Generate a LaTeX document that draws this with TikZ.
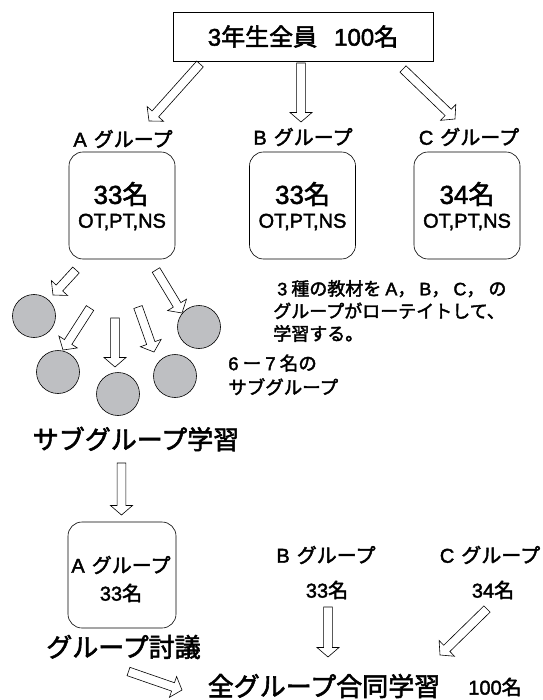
\documentclass[tikz,border=0pt]{standalone}
\usepackage{fontspec}
\setmainfont{Noto Sans CJK JP}[FakeBold=2.2]
\newfontfamily\helfont{Liberation Sans}[FakeBold=2]
\newcommand{\hel}[1]{{\helfont #1}}
\usepackage{xcolor}
\definecolor{subgray}{RGB}{190,191,194}
\usetikzlibrary{positioning,calc}
\tikzset{
	hollow/.style={to path={
		let \p1=($(\tikztotarget)-(\tikztostart)$), \n1={atan2(\y1,\x1)} in
		($(\tikztostart)+({\n1+90}:4.4pt)$)
		-- ($(\tikztotarget)+(\n1:-9.5pt)+({\n1+90}:4.4pt)$)
		-- ($(\tikztotarget)+(\n1:-9.5pt)+({\n1+90}:11pt)$)
		-- (\tikztotarget)
		-- ($(\tikztotarget)+(\n1:-9.5pt)+({\n1-90}:11pt)$)
		-- ($(\tikztotarget)+(\n1:-9.5pt)+({\n1-90}:4.4pt)$)
		-- ($(\tikztostart)+({\n1-90}:4.4pt)$) -- cycle}}
}

\begin{document}
\begin{tikzpicture}[x=1pt, y=-1pt, line width=0.6pt,
		txt/.style={inner sep=0pt, font=\fontsize{20}{24}\selectfont},
		note/.style={inner sep=0pt, anchor=west, align=left, font=\fontsize{18}{22.5}\selectfont},
		big/.style={inner sep=0pt, font=\fontsize{26}{30}\selectfont},
		num/.style={inner sep=0pt, font=\fontsize{26}{30}\selectfont},
		grpbox/.style={draw, rounded corners=14pt, minimum width=106pt, minimum height=107pt, inner sep=0pt},
		sub/.style={draw, circle, fill=subgray, minimum size=43pt, inner sep=0pt}]
				\useasboundingbox (0,0) rectangle (542,700);
				\node[draw, minimum width=260pt, minimum height=49pt, inner sep=0pt, font=\fontsize{24}{28}\selectfont] (all) at (303,36.5) {\hel{3}年生全員\hspace{17pt}\hel{100}名};
				\node[txt] (la) at (123,139) {\hel{A}\hspace{7pt}グループ};
				\node[txt] (lb) at (303,137) {\hel{B}\hspace{7pt}グループ};
				\node[txt] (lc) at (469,137) {\hel{C}\hspace{7pt}グループ};
				\node[grpbox] (ga) at (122,205.5) {};
				\node[grpbox] (gb) at (302.5,205.5) {};
				\node[grpbox] (gc) at (467,205.5) {};
				\node[num] (na) at (121,194) {\hel{33}名};
				\node[num] (nb) at (302.5,194) {\hel{33}名};
				\node[num] (nc) at (467,194) {\hel{34}名};
				\node[txt, font=\helfont\fontsize{20}{24}\selectfont] (sa) at (122,222) {OT,PT,NS};
				\node[txt, font=\helfont\fontsize{20}{24}\selectfont] (sb) at (302.5,222) {OT,PT,NS};
				\node[txt, font=\helfont\fontsize{20}{24}\selectfont] (sc) at (467,222) {OT,PT,NS};
				\coordinate (ta0) at (200,64); \coordinate (ta1) at (149,121);
				\coordinate (tb0) at (301,63); \coordinate (tb1) at (301,122);
				\coordinate (tc0) at (403,69); \coordinate (tc1) at (455,119);
				\draw (ta0) to[hollow] (ta1);
				\draw (tb0) to[hollow] (tb1);
				\draw (tc0) to[hollow] (tc1);
				\node[note] (rot) at (273,311) {\hspace*{4pt}\hel{3} 種の教材を \hel{A}， \hel{B}， \hel{C}， の\\グループがローテイトして、\\学習する。};
				\node[sub] (c1) at (34,316) {};
				\node[sub] (c2) at (58,372) {};
				\node[sub] (c3) at (118,394) {};
				\node[sub] (c4) at (175,376) {};
				\node[sub] (c5) at (199,327) {};
				\coordinate (a10) at (76,270); \coordinate (a11) at (53,295);
				\coordinate (a20) at (90,308); \coordinate (a21) at (63,350);
				\coordinate (a30) at (115,318); \coordinate (a31) at (115,367);
				\coordinate (a40) at (138,307); \coordinate (a41) at (154,352);
				\coordinate (a50) at (156,270); \coordinate (a51) at (182,313);
				\foreach \i in {1,...,5}
					\draw (a\i0) to[hollow] (a\i1);
				\node[note, font=\fontsize{18.5}{24}\selectfont] (sz) at (228,375) {\hel{6} ー \hel{7} 名の\\サブグループ};
				\node[big] (subl) at (136,439) {サブグループ学習};
				\coordinate (d0) at (121.5,463); \coordinate (d1) at (121.5,515);
				\draw (d0) to[hollow] (d1);
				\node[grpbox, minimum width=108pt, minimum height=106pt] (ga2) at (122,575) {};
				\node[txt] (la2) at (121,565) {\hel{A}\hspace{7pt}グループ};
				\node[txt] (na2) at (121,593) {\hel{33}名};
				\node[txt] (lb2) at (326,555) {\hel{B}\hspace{7pt}グループ};
				\node[txt] (nb2) at (327,590) {\hel{33}名};
				\node[txt] (lc2) at (490,555) {\hel{C}\hspace{7pt}グループ};
				\node[txt] (nc2) at (493,590) {\hel{34}名};
				\node[big] (disc) at (123.5,647) {グループ討議};
				\node[big] (whole) at (324,686) {全グループ合同学習};
				\node[txt] (tot) at (495,687) {\hel{100}名};
				\coordinate (b0) at (328,607); \coordinate (b1) at (328,657);
				\coordinate (c0) at (487,609); \coordinate (c1e) at (440,655);
				\coordinate (e0) at (128.5,671.5); \coordinate (e1) at (182,690);
				\draw (b0) to[hollow] (b1);
				\draw (c0) to[hollow] (c1e);
				\draw (e0) to[hollow] (e1);
\end{tikzpicture}
\end{document}
